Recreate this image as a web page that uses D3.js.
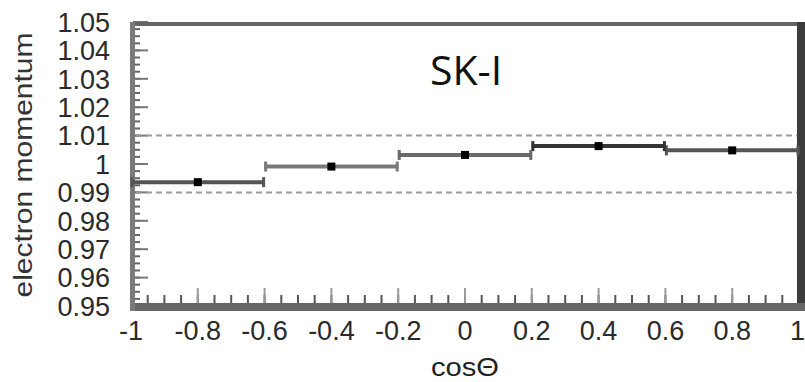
<!DOCTYPE html>
<html>
<head>
<meta charset="utf-8">
<script src="https://cdn.jsdelivr.net/npm/d3@7"></script>
<style>
  html, body { margin: 0; padding: 0; background: #fff; }
  svg { display: block; }
</style>
</head>
<body>
<svg id="chart" width="805" height="382"></svg>
<script>
// Binned electron momentum ratio vs. cos(theta), SK-I
const binLow   = [-1.0, -0.6, -0.2, 0.2, 0.6];
const binHigh  = [-0.6, -0.2,  0.2, 0.6, 1.0];
const binMid   = [-0.8, -0.4,  0.0, 0.4, 0.8];
const momentum = [0.9936, 0.9991, 1.0032, 1.0063, 1.0048];
const errors   = [0.0003, 0.0002, 0.0002, 0.0002, 0.0003];
const bandLimits = [1.01, 0.99];
const yTicks = [0.95, 0.96, 0.97, 0.98, 0.99, 1.00, 1.01, 1.02, 1.03, 1.04, 1.05];
const yTickLabels = ["0.95", "0.96", "0.97", "0.98", "0.99", "1", "1.01", "1.02", "1.03", "1.04", "1.05"];
const xTicks = [-1, -0.8, -0.6, -0.4, -0.2, 0, 0.2, 0.4, 0.6, 0.8, 1];
const xTickLabels = ["-1", "-0.8", "-0.6", "-0.4", "-0.2", "0", "0.2", "0.4", "0.6", "0.8", "1"];
const binStroke = ["#555", "#7a7a7a", "#6a6a6a", "#333", "#555"];

const svg = d3.select("#chart");
const x = d3.scaleLinear().domain([-1, 1]).range([131, 799]);
const y = d3.scaleLinear().domain([0.95, 1.05]).range([306, 22]);

// minor / major ticks along the bottom
const xMinor = d3.range(-1, 1.0001, 0.05);
svg.append("g").selectAll("line").data(xMinor).join("line")
  .attr("x1", d => x(d)).attr("x2", d => x(d))
  .attr("y1", 295).attr("y2", 304)
  .attr("stroke", "#555").attr("stroke-width", 2);
svg.append("g").selectAll("line").data(xTicks).join("line")
  .attr("x1", d => x(d)).attr("x2", d => x(d))
  .attr("y1", 288).attr("y2", 304)
  .attr("stroke", "#9a9a9a").attr("stroke-width", 2);

// minor / major ticks along the left side
const yMinor = d3.range(0.95, 1.0501, 0.0025);
svg.append("g").selectAll("line").data(yMinor).join("line")
  .attr("x1", 133).attr("x2", 140)
  .attr("y1", d => y(d)).attr("y2", d => y(d))
  .attr("stroke", "#666").attr("stroke-width", 2);
svg.append("g").selectAll("line").data(yTicks).join("line")
  .attr("x1", 133).attr("x2", 148)
  .attr("y1", d => y(d)).attr("y2", d => y(d))
  .attr("stroke", "#777").attr("stroke-width", 2);

// frame
svg.append("line").attr("x1", 130).attr("x2", 805).attr("y1", 24).attr("y2", 24)
  .attr("stroke", "#666").attr("stroke-width", 4);
svg.append("line").attr("x1", 801).attr("x2", 801).attr("y1", 22).attr("y2", 311)
  .attr("stroke", "#3c3c3c").attr("stroke-width", 8);
svg.append("line").attr("x1", 130).attr("x2", 805).attr("y1", 307).attr("y2", 307)
  .attr("stroke", "#666").attr("stroke-width", 8);
svg.append("line").attr("x1", 132.5).attr("x2", 132.5).attr("y1", 22).attr("y2", 311)
  .attr("stroke", "#7a7a7a").attr("stroke-width", 5);

// +-1% band
svg.append("g").selectAll("line").data(bandLimits).join("line")
  .attr("x1", 136).attr("x2", 797)
  .attr("y1", d => y(d)).attr("y2", d => y(d))
  .attr("stroke", "#9a9a9a").attr("stroke-width", 2)
  .attr("stroke-dasharray", "6,4");

// bins: horizontal segments with end caps
const bins = momentum.map((v, i) => ({ lo: binLow[i], hi: binHigh[i], mid: binMid[i], v, e: errors[i], c: binStroke[i] }));
const g = svg.append("g");
g.selectAll("line.seg").data(bins).join("line").attr("class", "seg")
  .attr("x1", d => x(d.lo)).attr("x2", d => x(d.hi))
  .attr("y1", d => y(d.v)).attr("y2", d => y(d.v))
  .attr("stroke", d => d.c).attr("stroke-width", 4);
g.selectAll("line.capL").data(bins).join("line").attr("class", "capL")
  .attr("x1", d => x(d.lo) + 1).attr("x2", d => x(d.lo) + 1)
  .attr("y1", d => y(d.v) - 5).attr("y2", d => y(d.v) + 5)
  .attr("stroke", d => d.c).attr("stroke-width", 3);
g.selectAll("line.capR").data(bins).join("line").attr("class", "capR")
  .attr("x1", d => x(d.hi) - 1).attr("x2", d => x(d.hi) - 1)
  .attr("y1", d => y(d.v) - 5).attr("y2", d => y(d.v) + 5)
  .attr("stroke", d => d.c).attr("stroke-width", 3);
g.selectAll("line.err").data(bins).join("line").attr("class", "err")
  .attr("x1", d => x(d.mid)).attr("x2", d => x(d.mid))
  .attr("y1", d => y(d.v + d.e)).attr("y2", d => y(d.v - d.e))
  .attr("stroke", "#333").attr("stroke-width", 5);
g.selectAll("rect").data(bins).join("rect")
  .attr("x", d => x(d.mid) - 4).attr("y", d => y(d.v) - 4)
  .attr("width", 8).attr("height", 8)
  .attr("fill", "#000");

// tick labels
const tickFont = "'Liberation Sans', Arial, sans-serif";
svg.append("g").selectAll("text").data(yTicks).join("text")
  .attr("x", 110).attr("y", d => y(d)).attr("dy", "0.36em")
  .attr("text-anchor", "end")
  .attr("font-family", tickFont).attr("font-size", 27)
  .attr("fill", "#2a2a2a")
  .text((d, i) => yTickLabels[i]);
const last = xTicks.length - 1;
svg.append("g").selectAll("text").data(xTicks).join("text")
  .attr("x", (d, i) => i === last ? 805 : x(d)).attr("y", 340)
  .attr("text-anchor", (d, i) => i === last ? "end" : "middle")
  .attr("font-family", tickFont).attr("font-size", 27)
  .attr("fill", "#2a2a2a")
  .text((d, i) => xTickLabels[i]);

// axis titles
svg.append("text")
  .attr("transform", "translate(32,165) rotate(-90)")
  .attr("text-anchor", "middle")
  .attr("font-family", tickFont).attr("font-size", 26)
  .attr("textLength", 265).attr("lengthAdjust", "spacingAndGlyphs")
  .attr("fill", "#333")
  .text("electron momentum");
svg.append("text")
  .attr("x", 465).attr("y", 376)
  .attr("text-anchor", "middle")
  .attr("font-family", tickFont).attr("font-size", 25)
  .attr("textLength", 68).attr("lengthAdjust", "spacingAndGlyphs")
  .attr("fill", "#222")
  .text("cosΘ");

// sample label
svg.append("text")
  .attr("x", 430).attr("y", 85)
  .attr("font-family", "'Open Sans', sans-serif").attr("font-size", 41)
  .attr("fill", "#111")
  .text("SK-I");
</script>
</body>
</html>
